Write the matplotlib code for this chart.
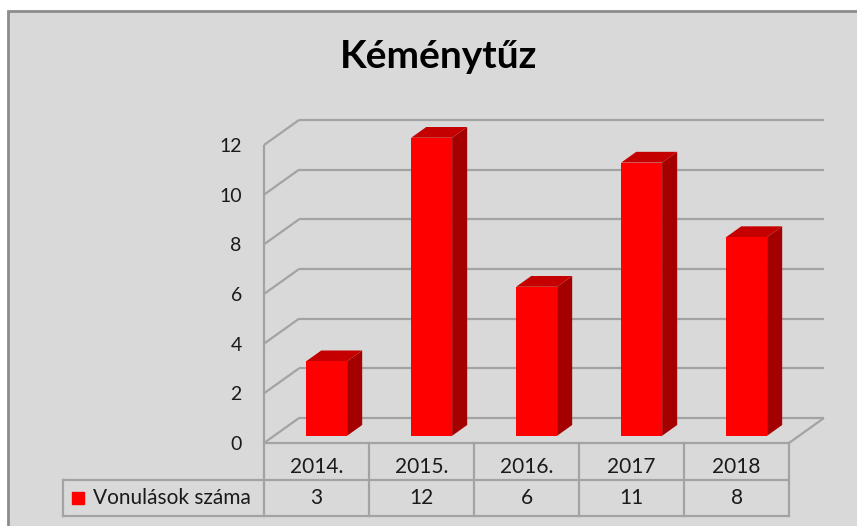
import matplotlib
matplotlib.use("Agg")
import matplotlib.pyplot as plt
from matplotlib.patches import Polygon, Rectangle

# ---- data ----
title = "Kéménytűz"
categories = ["2014.", "2015.", "2016.", "2017", "2018"]
values = [3, 12, 6, 11, 8]
series_name = "Vonulások száma"
yticks = [0, 2, 4, 6, 8, 10, 12]

# ---- style ----
FONT = ["Lato", "DejaVu Sans"]
plt.rcParams["font.family"] = FONT
BG = "#d9d9d9"
GRID = "#a3a3a3"
FRONT = "#ff0000"
SIDE = "#a50000"
TOP = "#c40000"
TXT = "#1a1a1a"

W, H = 857, 526
fig = plt.figure(figsize=(W / 100, H / 100), dpi=100)
fig.patch.set_facecolor("white")

# chart area (border visible top/left)
fig.patches.append(Rectangle((8 / W, 0 - 0.05), 1.1, 1 - 11 / H + 0.05,
                             transform=fig.transFigure, facecolor=BG,
                             edgecolor="#8c8c8c", linewidth=2, zorder=-10))

# front plane of the plot (pixels)
X0, X1, Y0, YT = 264, 789, 443, 145
ax = fig.add_axes([X0 / W, (H - Y0) / H, (X1 - X0) / W, (Y0 - YT) / H])
ax.set_zorder(2)
ax.set_facecolor("none")
n = len(categories)
ax.set_xlim(-0.5, n - 0.5)
ax.set_ylim(0, 12)
for s in ax.spines.values():
    s.set_visible(False)
ax.set_xticks([])
ax.set_yticks(yticks)
ax.set_yticklabels([str(t) for t in yticks])
ax.tick_params(axis="y", length=0, pad=16, labelsize=14, labelcolor=TXT)
for lab in ax.get_yticklabels():
    lab.set_verticalalignment("center_baseline")

# depth offset (pixels -> data units)
px_x = (X1 - X0) / n
px_y = (Y0 - YT) / 12
DX, DY = 35 / px_x, 25 / px_y
ymax = 12

kw = dict(color=GRID, lw=1.6, solid_capstyle="butt", clip_on=False, zorder=1)
for v in yticks:
    ax.plot([-0.5 + DX, n - 0.5 + DX], [v + DY, v + DY], **kw)
    ax.plot([-0.5, -0.5 + DX], [v, v + DY], **kw)
ax.plot([n - 0.5, n - 0.5 + DX], [0, DY], **kw)
ax.plot([-0.5, -0.5], [0, ymax], **kw)

# 3-D bars
d0, d1 = 0.29, 0.72
w = 0.39
ddx, ddy = (d1 - d0) * DX, (d1 - d0) * DY
x = [i + d0 * DX for i in range(n)]
ax.bar(x, values, width=w, bottom=d0 * DY, color=FRONT, zorder=5,
       clip_on=False, linewidth=0)
for xi, v in zip(x, values):
    xl, xr = xi - w / 2, xi + w / 2
    b, t = d0 * DY, d0 * DY + v
    ax.add_patch(Polygon([(xr, b), (xr + ddx, b + ddy), (xr + ddx, t + ddy), (xr, t)],
                         closed=True, facecolor=SIDE, edgecolor="none",
                         zorder=4, clip_on=False))
    ax.add_patch(Polygon([(xl, t), (xr, t), (xr + ddx, t + ddy), (xl + ddx, t + ddy)],
                         closed=True, facecolor=TOP, edgecolor="none",
                         zorder=4, clip_on=False))

# title
fig.text(439 / W, 1 - 68 / H, title, ha="center", va="baseline",
         fontsize=28, fontweight="bold", color="black", zorder=3)

# data table
TL, TB = 63, 516
tab = fig.add_axes([TL / W, (H - TB) / H, (X1 - TL) / W, (TB - Y0) / H])
tab.set_zorder(2)
tab.set_facecolor("none")
tab.axis("off")
lx = -0.5 - (X0 - TL) / px_x
tab.set_xlim(lx, n - 0.5)
tab.set_ylim(0, 2)
tk = dict(color=GRID, lw=1.6, clip_on=False, solid_capstyle="projecting")
tab.plot([-0.5, n - 0.5], [2, 2], **tk)
tab.plot([lx, n - 0.5], [1, 1], **tk)
tab.plot([lx, n - 0.5], [0, 0], **tk)
for k in range(n + 1):
    tab.plot([-0.5 + k, -0.5 + k], [0, 2], **tk)
tab.plot([lx, lx], [0, 1], **tk)
for i, (c, v) in enumerate(zip(categories, values)):
    tab.annotate(c, (i, 1.5), xytext=(0, -4), textcoords="offset points",
                 ha="center", va="center", fontsize=15, color=TXT)
    tab.annotate(str(v), (i, 0.5), ha="center", va="center",
                 fontsize=15, color=TXT)
tab.plot([lx + 15 / px_x], [0.5], marker="s", markersize=9, color=FRONT,
         linestyle="none", clip_on=False)
tab.annotate(series_name, (lx, 0.5), xytext=(21.5, 0), textcoords="offset points",
             ha="left", va="center", fontsize=15, color=TXT)

fig.savefig("out.png", dpi=100, facecolor=fig.get_facecolor())
